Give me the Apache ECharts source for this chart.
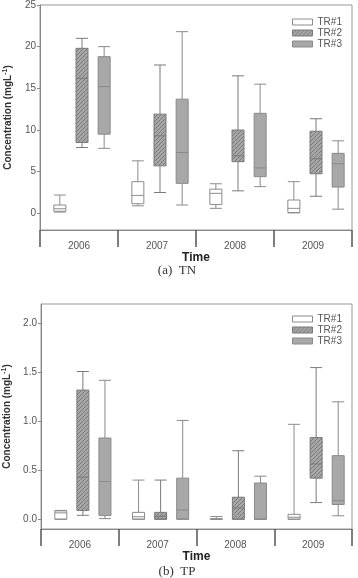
<!DOCTYPE html>
<html>
<head>
<meta charset="utf-8">
<script src="https://cdn.jsdelivr.net/npm/echarts@6/dist/echarts.min.js"></script>
<style>
html, body { margin: 0; padding: 0; background: #fff; }
#main { width: 358px; height: 578px; }
</style>
</head>
<body>
<div id="main"></div>
<script>
// categories and tick labels
var years = ["2006", "2007", "2008", "2009"];
var tnTicks = [0, 5, 10, 15, 20, 25];
var tpTicks = [0, 0.5, 1.0, 1.5, 2.0];
var legendNames = ["TR#1", "TR#2", "TR#3"];

// box values per year: [low whisker, Q1, median, Q3, high whisker]
var tnTR1 = [[0.15, 0.25, 0.55, 1.0, 2.2], [0.9, 1.15, 2.15, 3.8, 6.3], [0.6, 1.05, 2.4, 2.9, 3.55], [0.05, 0.1, 0.6, 1.6, 3.8]];
var tnTR2 = [[7.9, 8.5, 16.2, 19.8, 21.0], [2.5, 5.7, 9.3, 11.9, 17.8], [2.7, 6.2, 6.9, 10.0, 16.5], [2.05, 4.75, 6.55, 9.85, 11.35]];
var tnTR3 = [[7.8, 9.5, 15.2, 18.8, 20.0], [1.0, 3.6, 7.3, 13.7, 21.8], [3.2, 4.4, 5.45, 12.0, 15.5], [0.5, 3.15, 5.95, 7.2, 8.7]];

var tpTR1 = [[0, 0, 0.065, 0.085, 0.09], [0, 0, 0.025, 0.07, 0.4], [0, 0, 0, 0.005, 0.028], [0, 0, 0.02, 0.05, 0.97]];
var tpTR2 = [[0.04, 0.09, 0.43, 1.32, 1.51], [0, 0, 0.03, 0.07, 0.4], [0, 0, 0.115, 0.225, 0.7], [0.17, 0.42, 0.565, 0.835, 1.55]];
var tpTR3 = [[0.006, 0.037, 0.385, 0.83, 1.42], [0, 0, 0.095, 0.42, 1.01], [0, 0, 0, 0.37, 0.44], [0.035, 0.15, 0.19, 0.65, 1.2]];

// hatch tile for TR#2
var tile = document.createElement("canvas");
tile.width = 4; tile.height = 4;
var g = tile.getContext("2d");
g.fillStyle = "#a6a6a6";
g.fillRect(0, 0, 4, 4);
g.strokeStyle = "#7c7c7c";
g.lineWidth = 1;
g.beginPath();
g.moveTo(-1, 5); g.lineTo(5, -1);
g.moveTo(-1, 1); g.lineTo(1, -1);
g.moveTo(3, 5); g.lineTo(5, 3);
g.stroke();
var hatch = { image: tile, repeat: "repeat" };

var styles = [
    { color: "#ffffff", borderColor: "#8c8c8c", borderWidth: 1 },
    { color: hatch, borderColor: "#7a7a7a", borderWidth: 1 },
    { color: "#a8a8a8", borderColor: "#8a8a8a", borderWidth: 1 }
];

var font = "Liberation Sans";
var labelColor = "#555";

// panel frames: visible axes live in grids 0/1, the boxes in grids 2/3
// (same size, nudged 3px right so the group of three sits centred in each year)
var panels = [
    { left: 40, top: 5, width: 312, height: 225, min: -2, max: 25 },
    { left: 41, top: 304, width: 311, height: 225, min: -0.1, max: 2.2 }
];

function yAxisFor(idx, ticks, fmt) {
    return {
        type: "value",
        gridIndex: idx,
        min: panels[idx].min,
        max: panels[idx].max,
        name: "Concentration (mgL{sup|-1})",
        nameLocation: "middle",
        nameGap: 25,
        nameTextStyle: {
            fontFamily: font,
            fontWeight: "bold",
            fontSize: 10,
            color: "#333",
            rich: { sup: { fontSize: 7, fontWeight: "bold", color: "#333", padding: [0, 0, 6, 0] } }
        },
        axisLine: { show: true, lineStyle: { color: "#888" } },
        axisTick: { show: true, length: 3, customValues: ticks, lineStyle: { color: "#888" } },
        axisLabel: {
            customValues: ticks,
            margin: 4,
            fontFamily: font,
            fontSize: 10,
            color: labelColor,
            formatter: fmt
        },
        splitLine: { show: false }
    };
}

function xAxisFor(idx) {
    return {
        type: "category",
        gridIndex: idx,
        data: years,
        name: "Time",
        nameLocation: "middle",
        nameGap: 19,
        nameTextStyle: { fontFamily: font, fontWeight: "bold", fontSize: 12, color: "#222" },
        axisLine: { show: true, onZero: false, lineStyle: { color: "#888" } },
        axisTick: { show: true, interval: 0, length: 17, lineStyle: { color: "#555", width: 1.5 } },
        axisLabel: { margin: 11, fontFamily: font, fontSize: 10, color: labelColor },
        splitLine: { show: false }
    };
}

function legendFor(top) {
    return {
        orient: "vertical",
        left: 292,
        top: top,
        padding: 0,
        icon: "rect",
        itemWidth: 20,
        itemHeight: 6,
        itemGap: 0,
        textStyle: { fontFamily: font, fontSize: 10, color: labelColor, lineHeight: 11 },
        data: legendNames.map(function(n, i) {
            return { name: n, itemStyle: styles[i] };
        })
    };
}

function boxSeries(name, data, idx, style) {
    return {
        name: name,
        type: "boxplot",
        xAxisIndex: idx,
        yAxisIndex: idx,
        boxWidth: [12, 12],
        itemStyle: style,
        emphasis: { disabled: true },
        data: data
    };
}

var grids = [], xAxes = [], yAxes = [];
panels.forEach(function(p, i) {
    grids.push({ left: p.left, top: p.top, width: p.width, height: p.height,
        outerBoundsMode: "none", show: true, borderColor: "#999", borderWidth: 1 });
    xAxes.push(xAxisFor(i));
});
yAxes.push(yAxisFor(0, tnTicks, function(v) { return String(v); }));
yAxes.push(yAxisFor(1, tpTicks, function(v) { return v.toFixed(1); }));
panels.forEach(function(p, i) {
    grids.push({ left: p.left + 3, top: p.top, width: p.width, height: p.height, outerBoundsMode: "none" });
    xAxes.push({ type: "category", gridIndex: i + 2, data: years, show: false });
    yAxes.push({ type: "value", gridIndex: i + 2, min: p.min, max: p.max, show: false, splitLine: { show: false } });
});

var captionStyle = { fontFamily: "Liberation Serif", fontWeight: "normal", fontSize: 13, color: "#333" };

var chart = echarts.init(document.getElementById("main"));
chart.setOption({
    animation: false,
    title: [
        { text: "(a)  TN", left: 177, top: 264, padding: 0, textAlign: "center", textStyle: captionStyle },
        { text: "(b)  TP", left: 177, top: 565, padding: 0, textAlign: "center", textStyle: captionStyle }
    ],
    legend: [legendFor(16.5), legendFor(313.5)],
    grid: grids,
    xAxis: xAxes,
    yAxis: yAxes,
    series: [
        boxSeries("TR#1", tnTR1, 2, styles[0]),
        boxSeries("TR#2", tnTR2, 2, styles[1]),
        boxSeries("TR#3", tnTR3, 2, styles[2]),
        boxSeries("TR#1", tpTR1, 3, styles[0]),
        boxSeries("TR#2", tpTR2, 3, styles[1]),
        boxSeries("TR#3", tpTR3, 3, styles[2])
    ]
});
</script>
</body>
</html>
